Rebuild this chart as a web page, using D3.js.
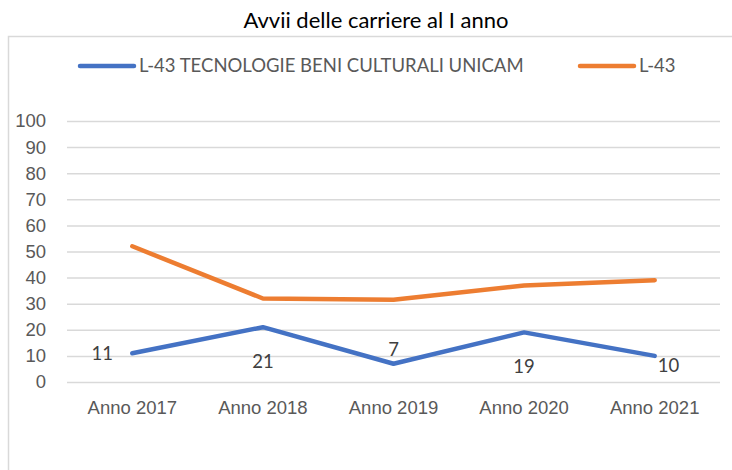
<!DOCTYPE html>
<html>
<head>
<meta charset="utf-8">
<script src="https://cdn.jsdelivr.net/npm/d3@7"></script>
<style>
  body { margin: 0; background: #fff; }
  svg { font-family: Lato, "Open Sans", sans-serif; }
</style>
</head>
<body>
<div id="chart"></div>
<script>
const categories = ["Anno 2017", "Anno 2018", "Anno 2019", "Anno 2020", "Anno 2021"];
const unicam = [11, 21, 7, 19, 10];
const nazionale = [52, 32, 31.5, 37, 39];
const seriesNames = ["L-43 TECNOLOGIE BENI CULTURALI UNICAM", "L-43"];
const yTicks = [0, 10, 20, 30, 40, 50, 60, 70, 80, 90, 100];
// where Excel put each data label of the first series
const labelPos = ["left", "below", "above", "below", "right"];

const width = 732, height = 470;
const margin = { top: 121, right: 12, bottom: 88, left: 67 };
const innerW = width - margin.left - margin.right;
const innerH = height - margin.top - margin.bottom;
const fs = "18.5px";

const svg = d3.select("#chart").append("svg")
  .attr("width", width)
  .attr("height", height);

// chart frame
svg.append("path")
  .attr("d", `M8.5,${height} V36.5 H${width}`)
  .attr("fill", "none")
  .attr("stroke", "#d9d9d9")
  .attr("stroke-width", 1.5);

svg.append("text")
  .attr("x", 376)
  .attr("y", 28)
  .attr("text-anchor", "middle")
  .style("font-size", "22px")
  .attr("fill", "#000")
  .text("Avvii delle carriere al I anno");

const g = svg.append("g").attr("transform", `translate(${margin.left},${margin.top})`);

const x = d3.scaleBand().domain(categories).range([0, innerW]);
const y = d3.scaleLinear().domain([0, 100]).range([innerH, 0]);

g.append("g")
  .call(d3.axisLeft(y).tickValues(yTicks).tickSize(-innerW).tickPadding(21))
  .call(a => a.select(".domain").remove())
  .call(a => a.selectAll(".tick line").attr("stroke", "#d9d9d9").attr("stroke-width", 1.5))
  .call(a => a.selectAll(".tick text").attr("fill", "#595959").style("font-size", fs));

g.append("g")
  .attr("transform", `translate(0,${innerH})`)
  .call(d3.axisBottom(x).tickSize(0).tickPadding(19))
  .call(a => a.select(".domain").remove())
  .call(a => a.selectAll(".tick text").attr("fill", "#595959").style("font-size", fs));

const line = d3.line()
  .x((d, i) => x(categories[i]) + x.bandwidth() / 2)
  .y(d => y(d));

const colors = ["#4472c4", "#ed7d31"];
[nazionale, unicam].forEach((s, k) => {
  g.append("path")
    .datum(s)
    .attr("d", line)
    .attr("fill", "none")
    .attr("stroke", colors[k === 0 ? 1 : 0])
    .attr("stroke-width", 4.5)
    .attr("stroke-linecap", "round")
    .attr("stroke-linejoin", "round");
});

const offsets = {
  left: { dx: -30, dy: 0, anchor: "middle" },
  right: { dx: 3, dy: 10, anchor: "start" },
  above: { dx: 0, dy: -14, anchor: "middle" },
  below: { dx: 0, dy: 34, anchor: "middle" }
};

g.selectAll(".lbl")
  .data(unicam)
  .enter().append("text")
  .attr("class", "lbl")
  .attr("x", (d, i) => x(categories[i]) + x.bandwidth() / 2 + offsets[labelPos[i]].dx)
  .attr("y", (d, i) => y(d) + offsets[labelPos[i]].dy)
  .attr("dy", "0.35em")
  .attr("text-anchor", (d, i) => offsets[labelPos[i]].anchor)
  .attr("fill", "#404040")
  .style("font-size", fs)
  .text(d => d);

// legend
const legend = svg.append("g");
const legendX = [80, 580];
seriesNames.forEach((name, i) => {
  legend.append("line")
    .attr("x1", legendX[i]).attr("x2", legendX[i] + 54)
    .attr("y1", 66).attr("y2", 66)
    .attr("stroke", colors[i])
    .attr("stroke-width", 4.5)
    .attr("stroke-linecap", "round");
  legend.append("text")
    .attr("x", legendX[i] + 59)
    .attr("y", 66)
    .attr("dy", "0.35em")
    .attr("fill", "#595959")
    .style("font-size", fs)
    .text(name);
});
</script>
</body>
</html>
